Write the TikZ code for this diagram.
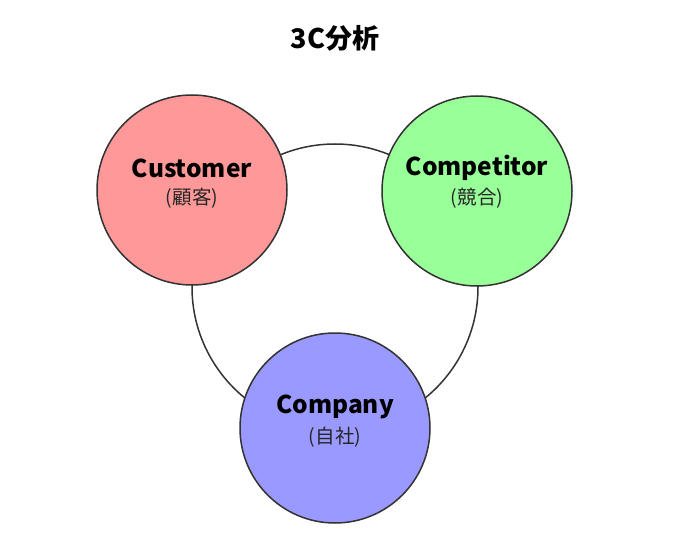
\documentclass[tikz,border=0pt]{standalone}
\usepackage{fontspec}
\setmainfont{Noto Sans CJK JP}
\usepackage{tikz}
\usetikzlibrary{positioning}
\usepackage{xcolor}
\definecolor{edge}{HTML}{333333}
\definecolor{custfill}{HTML}{FF9999}
\definecolor{compfill}{HTML}{99FF99}
\definecolor{ownfill}{HTML}{9999FF}

\begin{document}
\begin{tikzpicture}[x=1pt, y=-1pt,
    ring/.style={circle, draw=edge, line width=1.5pt, minimum size=286pt, inner sep=0pt},
    cbox/.style={circle, draw=edge, line width=1.5pt, minimum size=190pt, inner sep=0pt},
    cname/.style={font=\fontsize{24.5}{28}\selectfont\bfseries, inner sep=0pt},
    jname/.style={font=\fontsize{19.5}{23}\selectfont, text=black!85, inner sep=0pt},
  ]
  \useasboundingbox (0,0) rectangle (696,556);

  \node[font=\fontsize{27}{31}\selectfont\bfseries] (title) at (335,38) {3C分析};

  % ring behind the three circles
  \node[ring] (ring) at (335,287) {};

  \node[cbox, fill=custfill] (cust) at (192,190) {};
  \node[cbox, fill=compfill] (comp) at (477,191) {};
  \node[cbox, fill=ownfill] (own) at (335,428) {};

  \node[cname] (cust-en) at (192,168) {Customer};
  \node[jname] (cust-jp) at (192,198) {(顧客)};
  \node[cname] (comp-en) at (477,168) {Competitor};
  \node[jname] (comp-jp) at (477,198) {(競合)};
  \node[cname] (own-en) at (335,407) {Company};
  \node[jname] (own-jp) at (335,437) {(自社)};
\end{tikzpicture}
\end{document}
